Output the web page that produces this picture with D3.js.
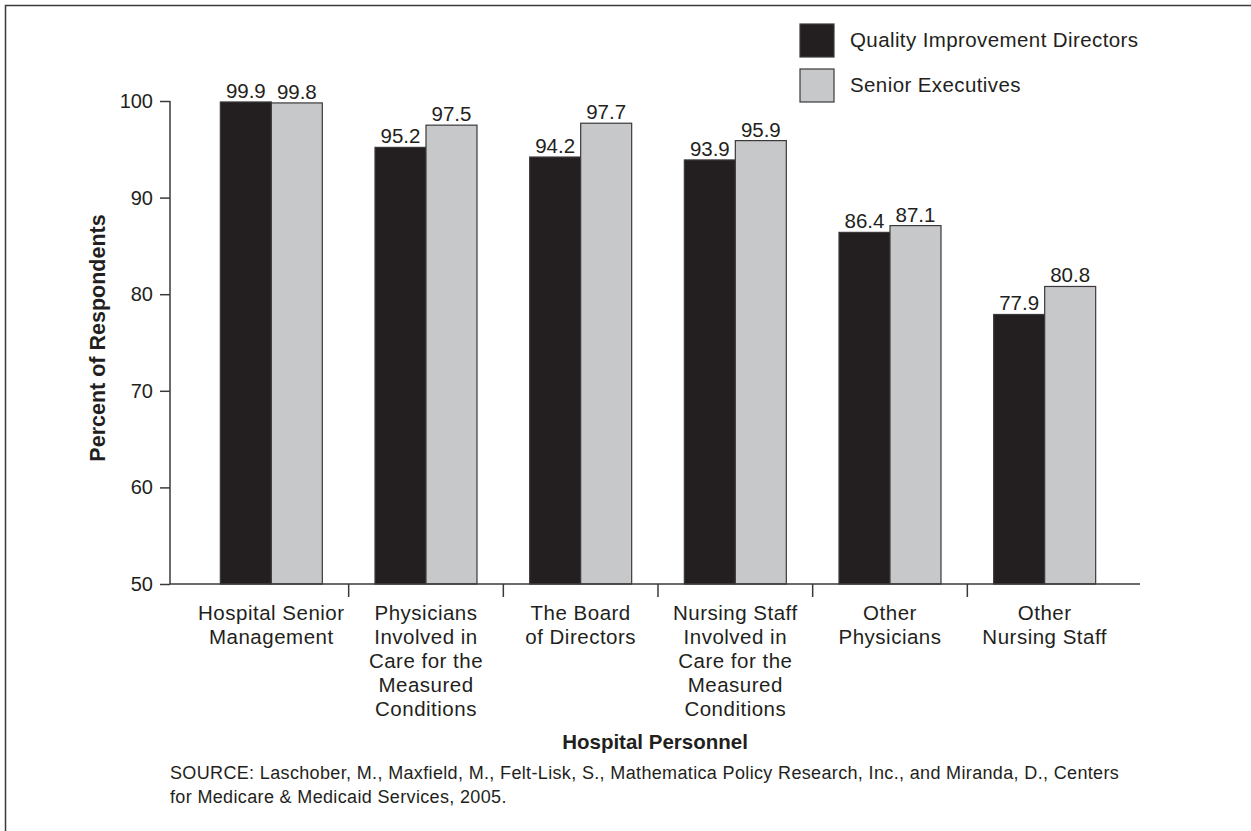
<!DOCTYPE html>
<html><head><meta charset="utf-8">
<script src="https://cdn.jsdelivr.net/npm/d3@7"></script>
<style>
html,body{margin:0;padding:0;background:#fff;}
text{font-family:"Liberation Sans",Arial,Helvetica,sans-serif;fill:#231f20;}
</style></head>
<body>
<svg id="chart" width="1251" height="831"></svg>
<script>
const categories = [
  ["Hospital Senior","Management"],
  ["Physicians","Involved in","Care for the","Measured","Conditions"],
  ["The Board","of Directors"],
  ["Nursing Staff","Involved in","Care for the","Measured","Conditions"],
  ["Other","Physicians"],
  ["Other","Nursing Staff"]
];
const seriesNames = ["Quality Improvement Directors","Senior Executives"];
const qiDirectors = [99.9, 95.2, 94.2, 93.9, 86.4, 77.9];
const seniorExecutives = [99.8, 97.5, 97.7, 95.9, 87.1, 80.8];
const yTicks = [50, 60, 70, 80, 90, 100];
const sourceLines = [
  "SOURCE: Laschober, M., Maxfield, M., Felt-Lisk, S., Mathematica Policy Research, Inc., and Miranda, D., Centers",
  "for Medicare & Medicaid Services, 2005."
];

const colors = ["#231f20", "#c7c8ca"];
const svg = d3.select("#chart");

// frame
svg.append("rect").attr("x",5.5).attr("y",5.5).attr("width",1300).attr("height",900)
  .attr("fill","none").attr("stroke","#3a3a3a").attr("stroke-width",1.5);

const idx = d3.range(categories.length);
const x = d3.scaleBand().domain(idx).range([194, 1122]);
const xs = d3.scaleBand().domain([0,1]).range([0, 102]);
const y = d3.scaleLinear().domain([50, 100]).range([584, 101]);
const axisX0 = 170, axisX1 = 1140;

// bars
const series = [qiDirectors, seniorExecutives];
series.forEach((vals, s) => {
  const g = svg.append("g");
  g.selectAll("rect").data(vals).join("rect")
    .attr("x", (d,i) => x(i) + x.bandwidth()/2 - 51 + xs(s))
    .attr("y", d => y(d))
    .attr("width", xs.bandwidth())
    .attr("height", d => y(50) - y(d))
    .attr("fill", colors[s])
    .attr("stroke", "#3a3a3a").attr("stroke-width", 1.2);
  g.selectAll("text").data(vals).join("text")
    .attr("x", (d,i) => x(i) + x.bandwidth()/2 - 51 + xs(s) + xs.bandwidth()/2)
    .attr("y", d => y(d) - 4)
    .attr("text-anchor","middle")
    .attr("font-size", 20.5)
    .text(d => d.toFixed(1));
});

// y axis
const yAxis = svg.append("g").attr("transform", `translate(${axisX0},0)`)
  .call(d3.axisLeft(y).tickValues(yTicks).tickSize(10).tickPadding(7).tickFormat(d3.format("d")));
yAxis.select(".domain").attr("stroke","#3a3a3a").attr("stroke-width",1.5)
  .attr("d", `M0,${y(100)}V${y(50)}`);
yAxis.selectAll(".tick line").attr("stroke","#3a3a3a").attr("stroke-width",1.5);
yAxis.selectAll(".tick text").attr("font-size",20).attr("fill","#231f20")
  .attr("font-family","Liberation Sans, Arial, sans-serif");

// x axis baseline
svg.append("line").attr("x1",axisX0).attr("x2",axisX1).attr("y1",y(50)).attr("y2",y(50))
  .attr("stroke","#3a3a3a").attr("stroke-width",1.5);
// x ticks between categories
svg.selectAll(".xtick").data(idx.slice(1)).join("line").attr("class","xtick")
  .attr("x1", i => x(i)).attr("x2", i => x(i))
  .attr("y1", y(50)).attr("y2", y(50) + 13)
  .attr("stroke","#3a3a3a").attr("stroke-width",1.5);

// category labels
categories.forEach((lines, i) => {
  const t = svg.append("text").attr("text-anchor","middle").attr("font-size",20.5)
    .attr("letter-spacing","0.5px");
  lines.forEach((ln, k) => {
    t.append("tspan").attr("x", x(i) + x.bandwidth()/2).attr("y", 620 + k*24).text(ln);
  });
});

// axis titles
svg.append("text").attr("transform","translate(105,338) rotate(-90)")
  .attr("text-anchor","middle").attr("font-size",21.5).attr("font-weight","bold")
  .text("Percent of Respondents");
svg.append("text").attr("x",(axisX0+axisX1)/2).attr("y",749)
  .attr("text-anchor","middle").attr("font-size",20.5).attr("font-weight","bold")
  .text("Hospital Personnel");

// source
sourceLines.forEach((ln, k) => {
  svg.append("text").attr("x",170).attr("y",779 + k*24).attr("font-size",18)
    .attr("letter-spacing","0.35px").text(ln);
});

// legend
seriesNames.forEach((nm, s) => {
  svg.append("rect").attr("x",800).attr("y",24 + s*45).attr("width",34).attr("height",33)
    .attr("fill",colors[s]).attr("stroke","#3a3a3a").attr("stroke-width",1.2);
  svg.append("text").attr("x",850).attr("y",47 + s*45).attr("font-size",20.5)
    .attr("letter-spacing","0.4px").text(nm);
});
</script>
</body></html>
